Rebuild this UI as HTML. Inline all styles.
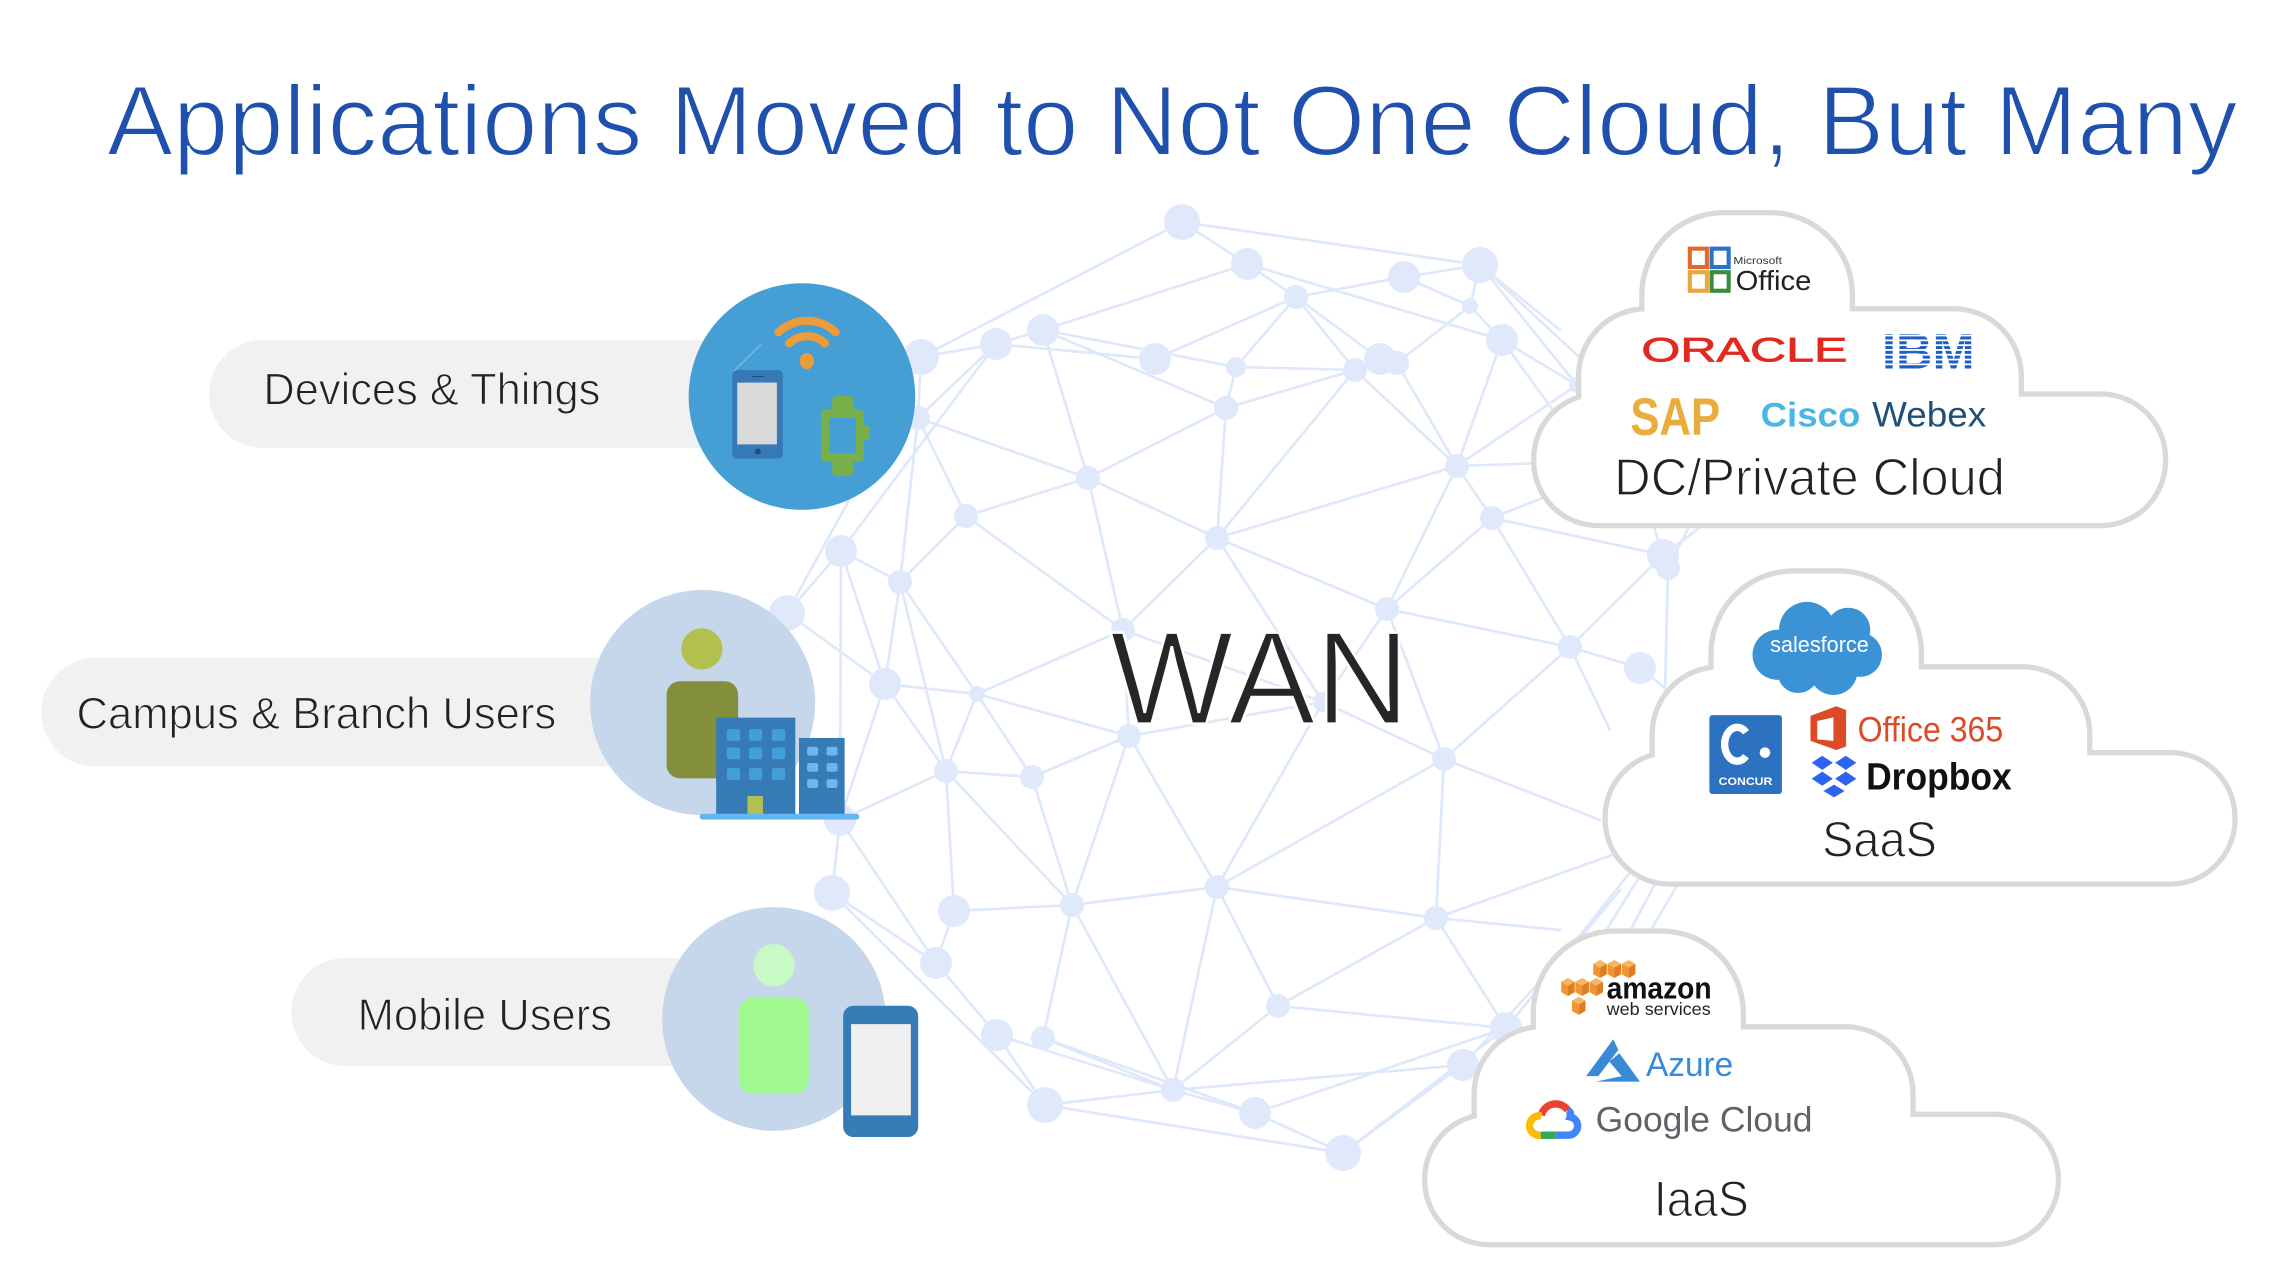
<!DOCTYPE html>
<html><head><meta charset="utf-8"><style>
html,body{margin:0;padding:0;background:#fff;overflow:hidden;}
svg{display:block;}
</style></head><body>
<svg width="2294" height="1278" viewBox="0 0 2294 1278" xmlns="http://www.w3.org/2000/svg" font-family="'Liberation Sans', sans-serif">
<defs>
<g id="cube">
<polygon points="0,2.6 4.6,0 9.2,2.6 4.6,5.2" fill="#f6b662"/>
<polygon points="0,2.6 4.6,5.2 4.6,12.3 0,9.7" fill="#ef9633"/>
<polygon points="4.6,5.2 9.2,2.6 9.2,9.7 4.6,12.3" fill="#de7d24"/>
</g>
</defs>
<rect width="2294" height="1278" fill="#fff"/>
<!-- network (real coords) -->
<path fill="none" stroke="#dde8fa" stroke-width="2.6" stroke-linecap="round" d="
M1182 222L1247 264M1182 222L921 357M1182 222L1480 265M1247 264L1296 297M1247 264L1043 330M1247 264L1502 340
M1296 297L1404 277M1296 297L1380 359M1296 297L1355 370M1296 297L1236 367M1296 297L1155 359
M1404 277L1480 265M1404 277L1470 306M1480 265L1470 306M1470 306L1397 363M1470 306L1502 340
M1502 340L1457 466M1502 340L1577 385M1480 265L1577 385M1480 265L1620 395M1480 265L1560 330
M1397 363L1457 466M1355 370L1457 466M1236 367L1355 370M1226 408L1355 370M1457 466L1577 385
M1457 466L1217 538M1355 370L1217 538M1457 466L1492 518M1457 466L1387 609M1457 466L1545 463
M1492 518L1663 555M1492 518L1387 609M1492 518L1570 647M1492 518L1550 495M1502 340L1560 420
M1663 555L1570 647M1668 568L1665 690M1663 555L1650 515M1668 568L1695 515M1663 555L1710 520
M1387 609L1570 647M1387 609L1217 538M1387 609L1323 702M1387 609L1444 759
M1570 647L1640 668M1570 647L1444 759M1570 647L1610 730M1640 668L1680 700
M996 344L921 357M996 344L1043 330M996 344L1155 359M1043 330L1236 367M1043 330L1226 408M1043 330L1088 478
M996 344L918 418M996 344L841 551M1236 367L1226 408M1226 408L1217 538M1226 408L1088 478
M918 418L1088 478M918 418L966 516M918 418L900 582M1088 478L966 516M1088 478L1217 538M1088 478L1123 630
M966 516L900 582M966 516L1123 630M1217 538L1123 630M1217 538L1323 702
M841 551L787 613M841 551L900 582M841 551L885 684M841 551L840 820M787 613L885 684M787 613L860 480
M900 582L885 684M900 582L977 694M900 582L946 771M885 684L977 694M885 684L840 820M885 684L946 771
M1123 630L977 694M1123 630L1129 736M1123 630L1323 702M977 694L1129 736M977 694L946 771M977 694L1032 777
M921 357L918 418M946 771L1032 777M946 771L840 820M946 771L954 911M946 771L1072 905
M1032 777L1129 736M1032 777L1072 905M1129 736L1217 887M1129 736L1072 905M1129 736L1323 702
M1072 905L954 911M1072 905L1217 887M1072 905L1043 1038M1072 905L1173 1090
M1217 887L1278 1006M1217 887L1173 1090M1217 887L1323 702M1217 887L1444 759M1217 887L1436 918
M832 893L840 820M832 893L936 963M832 893L1045 1105M840 820L936 963M954 911L936 963M936 963L997 1035
M997 1035L1045 1105M997 1035L1173 1090M1043 1038L1173 1090M1043 1038L1255 1113
M1045 1105L1173 1090M1045 1105L1343 1153M1173 1090L1255 1113M1173 1090L1463 1065
M1278 1006L1173 1090M1278 1006L1506 1028M1323 702L1444 759M1444 759L1436 918M1444 759L1600 820
M1436 918L1278 1006M1436 918L1506 1028M1436 918L1560 930M1436 918L1612 855
M1506 1028L1255 1113M1506 1028L1343 1153M1463 1065L1343 1153M1255 1113L1343 1153
M1506 1028L1620 890M1463 1065L1560 960
M1560 960L1640 860M1600 940L1650 860M1625 940L1668 860M1645 940L1692 860"/>
<g fill="#dfe9fb">
<circle cx="1182" cy="222" r="18"/><circle cx="1247" cy="264" r="16"/><circle cx="1296" cy="297" r="12"/>
<circle cx="921" cy="357" r="18"/><circle cx="996" cy="344" r="16"/><circle cx="1043" cy="330" r="16"/>
<circle cx="1155" cy="359" r="16"/><circle cx="1236" cy="367" r="10"/><circle cx="1226" cy="408" r="12"/>
<circle cx="918" cy="418" r="12"/><circle cx="1088" cy="478" r="12"/><circle cx="966" cy="516" r="12"/>
<circle cx="1217" cy="538" r="12"/><circle cx="841" cy="551" r="16"/><circle cx="900" cy="582" r="12"/>
<circle cx="787" cy="613" r="18"/><circle cx="1123" cy="630" r="12"/><circle cx="885" cy="684" r="16"/>
<circle cx="977" cy="694" r="8"/><circle cx="1480" cy="265" r="18"/><circle cx="1404" cy="277" r="16"/>
<circle cx="1470" cy="306" r="8"/><circle cx="1380" cy="359" r="16"/><circle cx="1397" cy="363" r="12"/>
<circle cx="1355" cy="370" r="12"/><circle cx="1502" cy="340" r="16"/><circle cx="1457" cy="466" r="12"/>
<circle cx="1492" cy="518" r="12"/><circle cx="1663" cy="555" r="16"/><circle cx="1668" cy="568" r="12"/>
<circle cx="1387" cy="609" r="12"/><circle cx="1570" cy="647" r="12"/><circle cx="1640" cy="668" r="16"/>
<circle cx="1323" cy="702" r="10"/><circle cx="1577" cy="385" r="8"/><circle cx="840" cy="820" r="16"/>
<circle cx="946" cy="771" r="12"/><circle cx="1032" cy="777" r="12"/><circle cx="1129" cy="736" r="12"/>
<circle cx="832" cy="893" r="18"/><circle cx="954" cy="911" r="16"/><circle cx="1072" cy="905" r="12"/>
<circle cx="1217" cy="887" r="12"/><circle cx="936" cy="963" r="16"/><circle cx="997" cy="1035" r="16"/>
<circle cx="1043" cy="1038" r="12"/><circle cx="1278" cy="1006" r="12"/><circle cx="1173" cy="1090" r="12"/>
<circle cx="1045" cy="1105" r="18"/><circle cx="1255" cy="1113" r="16"/><circle cx="1444" cy="759" r="12"/>
<circle cx="1436" cy="918" r="12"/><circle cx="1506" cy="1028" r="16"/><circle cx="1463" cy="1065" r="16"/>
<circle cx="1343" cy="1153" r="18"/>
</g>

<g transform="scale(1.471456)">
<!-- Title -->
<text x="72.6" y="105.3" font-size="67.5" textLength="1448" lengthAdjust="spacingAndGlyphs" fill="#1f50ae" stroke="#fff" stroke-width="1.4">Applications Moved to Not One Cloud, But Many</text>

<!-- WAN -->
<text x="754.4" y="491.8" font-size="90" textLength="203.6" lengthAdjust="spacingAndGlyphs" fill="#262626" stroke="#fff" stroke-width="1.8">WAN</text>

<!-- Pills -->
<rect x="142" y="231" width="380" height="73.5" rx="36.75" fill="#f1f1f1"/>
<rect x="28" y="447" width="420" height="74" rx="37" fill="#f1f1f1"/>
<path d="M234.75 651 H455 Q475 651 475 671 V704.5 Q475 724.5 455 724.5 H234.75 A36.75 36.75 0 0 1 234.75 651 Z" fill="#f1f1f1"/>
<g fill="#222" stroke="#f1f1f1" stroke-width="0.7">
<text x="179" y="275" font-size="30" textLength="229" lengthAdjust="spacingAndGlyphs">Devices &amp; Things</text>
<text x="52" y="495" font-size="30" textLength="326" lengthAdjust="spacingAndGlyphs">Campus &amp; Branch Users</text>
<text x="243" y="700" font-size="30" textLength="173" lengthAdjust="spacingAndGlyphs">Mobile Users</text>
</g>

<!-- Circle 1: devices -->
<circle cx="545" cy="269.5" r="77" fill="#459fd5"/>
<line x1="498" y1="253" x2="517" y2="234" stroke="#8fc3ea" stroke-width="0.7"/>
<rect x="497.6" y="251.5" width="34.4" height="60.2" rx="3" fill="#3579b7"/>
<rect x="501" y="260" width="27" height="42" fill="#d9d9d9"/>
<circle cx="515" cy="306.8" r="2" fill="#1e4f80"/>
<rect x="511" y="255.5" width="8" height="0.8" fill="#1e4f80"/>
<rect x="565.6" y="269" width="14.4" height="54.6" rx="3" fill="#77b04a"/>
<rect x="558" y="278" width="29" height="36" rx="3" fill="#77b04a"/>
<rect x="585" y="289" width="6" height="10" rx="2.5" fill="#77b04a"/>
<rect x="563.5" y="284" width="18.2" height="24" fill="#459fd5"/>
<ellipse cx="548.3" cy="245.4" rx="4.8" ry="5.5" fill="#ec9c3a"/>
<path d="M536.3 233.4 A17.5 17.5 0 0 1 560.7 233.4" fill="none" stroke="#ec9c3a" stroke-width="5.5" stroke-linecap="round"/>
<path d="M529 225.9 A28 28 0 0 1 568 225.9" fill="none" stroke="#ec9c3a" stroke-width="5.5" stroke-linecap="round"/>

<!-- Circle 2: campus -->
<circle cx="477.5" cy="477.5" r="76.5" fill="#c7d7eb"/>
<circle cx="477" cy="441" r="14" fill="#b1c04f"/>
<rect x="453" y="463" width="48.6" height="66" rx="9" fill="#848f3b"/>
<rect x="486.7" y="487.7" width="53.8" height="65.8" fill="#367bb6"/>
<rect x="543" y="501.5" width="31" height="52" fill="#367bb6"/>
<g fill="#429fd9">
<rect x="494" y="495.5" width="9" height="8" rx="1.5"/><rect x="509" y="495.5" width="9" height="8" rx="1.5"/><rect x="524.6" y="495.5" width="9" height="8" rx="1.5"/>
<rect x="494" y="508" width="9" height="8" rx="1.5"/><rect x="509" y="508" width="9" height="8" rx="1.5"/><rect x="524.6" y="508" width="9" height="8" rx="1.5"/>
<rect x="494" y="522" width="9" height="8" rx="1.5"/><rect x="509" y="522" width="9" height="8" rx="1.5"/><rect x="524.6" y="522" width="9" height="8" rx="1.5"/>
</g>
<g fill="#6ab6ef">
<rect x="548.5" y="507.5" width="7.5" height="6" rx="1.5"/><rect x="561.7" y="507.5" width="7.5" height="6" rx="1.5"/>
<rect x="548.5" y="518.5" width="7.5" height="6" rx="1.5"/><rect x="561.7" y="518.5" width="7.5" height="6" rx="1.5"/>
<rect x="548.5" y="529.5" width="7.5" height="6" rx="1.5"/><rect x="561.7" y="529.5" width="7.5" height="6" rx="1.5"/>
</g>
<rect x="508" y="541" width="10.5" height="12.5" fill="#b1c04f"/>
<rect x="475.5" y="553" width="108.5" height="4" rx="2" fill="#63b6ef"/>

<!-- Circle 3: mobile -->
<circle cx="526" cy="692.5" r="76" fill="#c7d7eb"/>
<ellipse cx="526" cy="656" rx="14" ry="14.5" fill="#c9f9c6"/>
<rect x="502" y="678" width="47.6" height="65.5" rx="10" fill="#9ff98e"/>
<rect x="573" y="683.5" width="51" height="89.2" rx="7" fill="#377cb7"/>
<rect x="578.4" y="696" width="40.6" height="62" fill="#f0f0f0"/>

<!-- Clouds -->
<g fill="#d9d9d9" stroke="#d9d9d9" stroke-width="7.2">
<rect x="1117.6" y="146.3" width="139.5" height="153.7" rx="54"/>
<rect x="1074.6" y="211.6" width="297.3" height="118.4" rx="44"/>
<rect x="1044.1" y="269.6" width="425.8" height="85.8" rx="42"/>
<rect x="1164.6" y="389.8" width="139.4" height="150" rx="54"/>
<rect x="1124.6" y="454.9" width="293.8" height="125" rx="44"/>
<rect x="1092.6" y="513.3" width="424.5" height="85.7" rx="42"/>
<rect x="1043.8" y="634.5" width="139.2" height="155" rx="54"/>
<rect x="1003.6" y="699.6" width="294.7" height="130" rx="44"/>
<rect x="970" y="759.1" width="427.1" height="85" rx="42"/>
</g>
<g fill="#fff">
<rect x="1117.6" y="146.3" width="139.5" height="153.7" rx="54"/>
<rect x="1074.6" y="211.6" width="297.3" height="118.4" rx="44"/>
<rect x="1044.1" y="269.6" width="425.8" height="85.8" rx="42"/>
<rect x="1164.6" y="389.8" width="139.4" height="150" rx="54"/>
<rect x="1124.6" y="454.9" width="293.8" height="125" rx="44"/>
<rect x="1092.6" y="513.3" width="424.5" height="85.7" rx="42"/>
<rect x="1043.8" y="634.5" width="139.2" height="155" rx="54"/>
<rect x="1003.6" y="699.6" width="294.7" height="130" rx="44"/>
<rect x="970" y="759.1" width="427.1" height="85" rx="42"/>
</g>

<!-- DC cloud contents -->
<g fill="#fff" stroke-width="2.8">
<rect x="1148.4" y="169" width="11.6" height="12.5" stroke="#e06a2c"/>
<rect x="1163.2" y="169" width="11.6" height="12.5" stroke="#2a73c8"/>
<rect x="1148.4" y="185" width="11.6" height="12.6" stroke="#e7a73a"/>
<rect x="1163.2" y="185" width="11.6" height="12.6" stroke="#3a8c3f"/>
</g>
<text x="1178" y="179.4" font-size="7" textLength="33" lengthAdjust="spacingAndGlyphs" fill="#333">Microsoft</text>
<text x="1179.5" y="197" font-size="19" textLength="51.5" lengthAdjust="spacingAndGlyphs" fill="#222">Office</text>
<text x="1115.5" y="245.8" font-size="23.5" textLength="140" lengthAdjust="spacingAndGlyphs" fill="#e3281f" stroke="#e3281f" stroke-width="0.5">ORACLE</text>
<text x="1279" y="250.3" font-size="34" font-weight="bold" textLength="63" lengthAdjust="spacingAndGlyphs" fill="#1f5fc5">IBM</text>
<g fill="#fff">
<rect x="1276" y="227.4" width="70" height="1.22"/><rect x="1276" y="230.7" width="70" height="1.22"/>
<rect x="1276" y="233.96" width="70" height="1.22"/><rect x="1276" y="237.22" width="70" height="1.22"/>
<rect x="1276" y="240.48" width="70" height="1.22"/><rect x="1276" y="243.74" width="70" height="1.22"/>
<rect x="1276" y="247" width="70" height="1.22"/>
</g>
<text x="1108" y="295.6" font-size="36" font-weight="bold" textLength="61" lengthAdjust="spacingAndGlyphs" fill="#e8ad3c">SAP</text>
<text x="1196.5" y="290" font-size="23.5" font-weight="bold" textLength="67.8" lengthAdjust="spacingAndGlyphs" fill="#49b6e4">Cisco</text>
<text x="1272.3" y="290" font-size="24" textLength="77.5" lengthAdjust="spacingAndGlyphs" fill="#1f4e79">Webex</text>
<text x="1097" y="336.4" font-size="35" textLength="265.5" lengthAdjust="spacingAndGlyphs" fill="#222" stroke="#fff" stroke-width="0.8">DC/Private Cloud</text>

<!-- SaaS cloud contents -->
<g fill="#3b92d5">
<circle cx="1208" cy="445" r="17"/><circle cx="1228" cy="428" r="19"/><circle cx="1256" cy="428" r="15"/>
<circle cx="1264" cy="445" r="15"/><circle cx="1246" cy="456" r="16.3"/><circle cx="1222" cy="457" r="14"/>
<circle cx="1240" cy="440" r="18"/>
</g>
<text x="1203" y="443" font-size="15" textLength="67" lengthAdjust="spacingAndGlyphs" fill="#fff">salesforce</text>
<rect x="1161.7" y="486" width="49.3" height="53.6" rx="2" fill="#2d72c0"/>
<path d="M1186.6 497.7 A8.5 11.5 0 1 0 1186.6 513.9" fill="none" stroke="#fff" stroke-width="5"/>
<circle cx="1199.5" cy="511.5" r="3.6" fill="#fff"/>
<text x="1168" y="533.5" font-size="7.8" font-weight="bold" textLength="36.5" lengthAdjust="spacingAndGlyphs" fill="#fff">CONCUR</text>
<polygon points="1230.4,486.5 1248,480 1254.6,482.5 1254.6,507.3 1248,509.7 1230.4,503.5" fill="#dc4b25"/>
<polygon points="1235,490 1246,487.5 1246,503.5 1235,502.5" fill="#fff"/>
<text x="1262.4" y="504" font-size="24" textLength="99" lengthAdjust="spacingAndGlyphs" fill="#dc4b25">Office 365</text>
<g fill="#2c63f0">
<polygon points="1231.2,518.4 1238.4,513.6 1245.6,518.4 1238.4,523.2"/>
<polygon points="1247.2,518.4 1254.4,513.6 1261.6,518.4 1254.4,523.2"/>
<polygon points="1231.2,529.2 1238.4,524.4 1245.6,529.2 1238.4,534"/>
<polygon points="1247.2,529.2 1254.4,524.4 1261.6,529.2 1254.4,534"/>
<polygon points="1239.2,537.6 1246.4,533.2 1253.6,537.6 1246.4,541.9"/>
</g>
<text x="1268.2" y="536.4" font-size="26" font-weight="bold" textLength="99" lengthAdjust="spacingAndGlyphs" fill="#111">Dropbox</text>
<text x="1238.3" y="582.2" font-size="34" textLength="78" lengthAdjust="spacingAndGlyphs" fill="#222" stroke="#fff" stroke-width="0.8">SaaS</text>

<!-- IaaS cloud contents -->
<use href="#cube" x="1082.8" y="652.4"/><use href="#cube" x="1092.5" y="652.4"/><use href="#cube" x="1102.2" y="652.4"/>
<use href="#cube" x="1061" y="664.6"/><use href="#cube" x="1070.6" y="664.6"/><use href="#cube" x="1080.2" y="664.6"/>
<use href="#cube" x="1068.3" y="677.4"/>
<text x="1091.9" y="678.5" font-size="21" font-weight="bold" textLength="71.3" lengthAdjust="spacingAndGlyphs" fill="#111">amazon</text>
<text x="1091.9" y="689.8" font-size="12" textLength="70.7" lengthAdjust="spacingAndGlyphs" fill="#222">web services</text>
<polygon points="1077.9,731.3 1096.4,706.3 1099.8,713.6 1086.2,731.3" fill="#3a8ad8"/>
<polygon points="1100.5,715.8 1114.5,735.1 1084.6,735.1 1102.1,731.3 1093.7,721.5" fill="#3a8ad8"/>
<text x="1118.6" y="731.3" font-size="23" textLength="59.3" lengthAdjust="spacingAndGlyphs" fill="#3a8ad8">Azure</text>
<g fill="none" stroke-width="5">
<path d="M1047.5 758 A10 10 0 0 1 1065.5 754.5" stroke="#ea4335"/>
<path d="M1065.5 754.5 Q1068 756 1067 759 A6.3 6.3 0 0 1 1066 771.5 L1057 771.5" stroke="#4285f4"/>
<path d="M1057 771.5 L1047 771.5" stroke="#34a853"/>
<path d="M1047 771.5 A6.6 6.6 0 1 1 1047.5 758.5" stroke="#fbbc05"/>
</g>
<text x="1084.4" y="769.1" font-size="24" textLength="147.4" lengthAdjust="spacingAndGlyphs" fill="#5f6368">Google Cloud</text>
<text x="1124" y="826.4" font-size="34" textLength="64.4" lengthAdjust="spacingAndGlyphs" fill="#222" stroke="#fff" stroke-width="0.8">IaaS</text>
</g>
</svg>
</body></html>
